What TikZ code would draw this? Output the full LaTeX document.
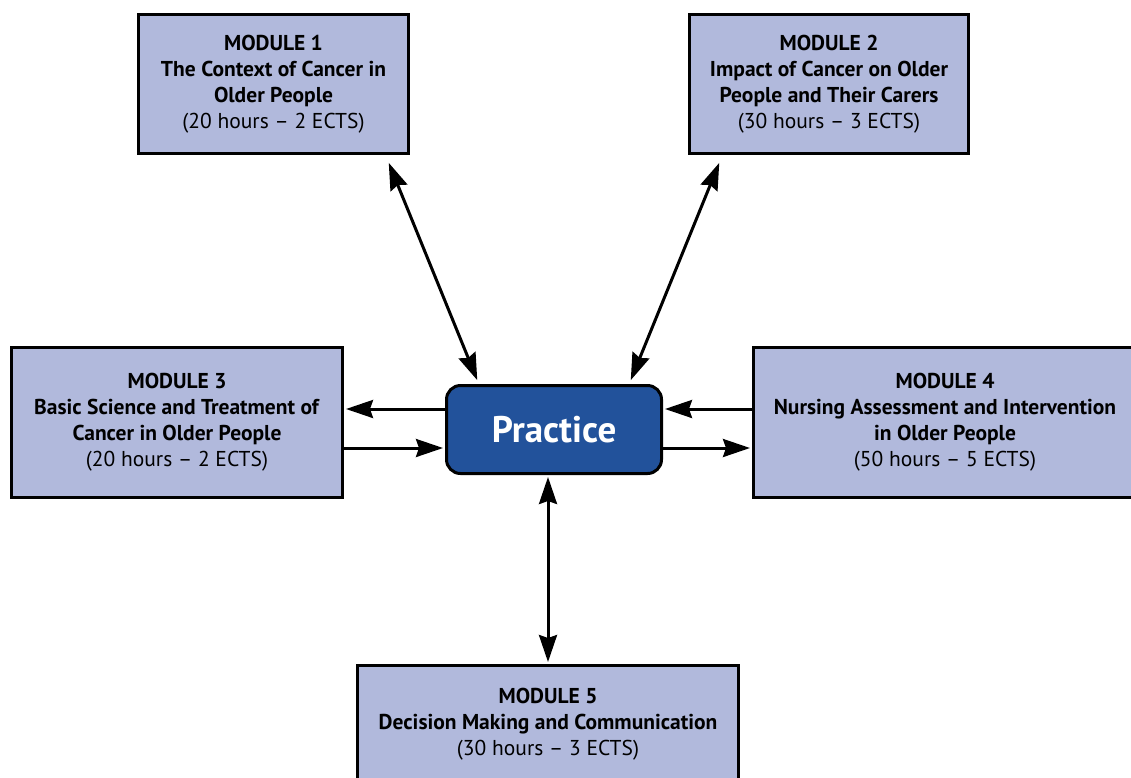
\documentclass[tikz,border=0pt]{standalone}
\usepackage{fontspec}
\setmainfont{PT Sans}
\usetikzlibrary{arrows.meta}
\definecolor{modfill}{RGB}{177,185,220}
\definecolor{pracfill}{RGB}{34,82,155}
\begin{document}
\begin{tikzpicture}[x=1pt,y=-1pt,
  modbox/.style={draw=black,line width=3pt,fill=modfill,align=center,inner sep=0pt,
    font=\fontsize{21.5}{26}\selectfont},
  tipA/.tip={Stealth[length=27pt,width=18pt,inset=3pt]},
  arr/.style={line width=3pt,-tipA,shorten >=2pt},
  arrb/.style={line width=3pt,tipA-tipA,shorten >=2pt,shorten <=2pt}]
\useasboundingbox (0,0) rectangle (1131,777);
\node[modbox,minimum width=270pt,minimum height=139pt] (m1) at (273.5,84)
  {\textbf{MODULE 1}\\\textbf{The Context of Cancer in}\\\textbf{Older People}\\(20 hours – 2 ECTS)};
\node[modbox,minimum width=279pt,minimum height=139pt] (m2) at (829,84)
  {\textbf{MODULE 2}\\\textbf{Impact of Cancer on Older}\\\textbf{People and Their Carers}\\(30 hours – 3 ECTS)};
\node[modbox,minimum width=331pt,minimum height=150pt] (m3) at (177,422.5)
  {\textbf{MODULE 3}\\\textbf{Basic Science and Treatment of}\\\textbf{Cancer in Older People}\\(20 hours – 2 ECTS)};
\node[modbox,minimum width=383pt,minimum height=150pt] (m4) at (945,422.5)
  {\textbf{MODULE 4}\\\textbf{Nursing Assessment and Intervention}\\\textbf{in Older People}\\(50 hours – 5 ECTS)};
\node[modbox,minimum width=381pt,minimum height=118pt] (m5) at (548,724.5)
  {\textbf{MODULE 5}\\\textbf{Decision Making and Communication}\\(30 hours – 3 ECTS)};
\node[draw=black,line width=3pt,fill=pracfill,rounded corners=14pt,minimum width=215pt,
  minimum height=88pt,inner sep=0pt,text=white,font=\fontsize{37}{40}\selectfont\bfseries]
  (prac) at (554,429.5) {Practice};
% diagonal arrows
\draw[arrb] ([xshift=-22pt,yshift=-6pt]m1.south east) -- ([xshift=33pt,yshift=2pt]prac.north west);
\draw[arrb] ([xshift=32pt,yshift=-6pt]m2.south west) -- ([xshift=-33pt,yshift=2pt]prac.north east);
% left
\draw[arr] ([yshift=20.5pt]prac.west) -- ([yshift=20.5pt]prac.west -| m3.east);
\draw[arr] ([yshift=-18.5pt]m3.east |- prac.west) -- ([yshift=-18.5pt]prac.west);
% right
\draw[arr] ([yshift=20.5pt]m4.west |- prac.east) -- ([yshift=20.5pt]prac.east);
\draw[arr] ([yshift=-18.5pt]prac.east) -- ([yshift=-18.5pt]prac.east -| m4.west);
% bottom
\draw[arrb] (prac.south -| m5.north) -- (m5.north);
\end{tikzpicture}
\end{document}
